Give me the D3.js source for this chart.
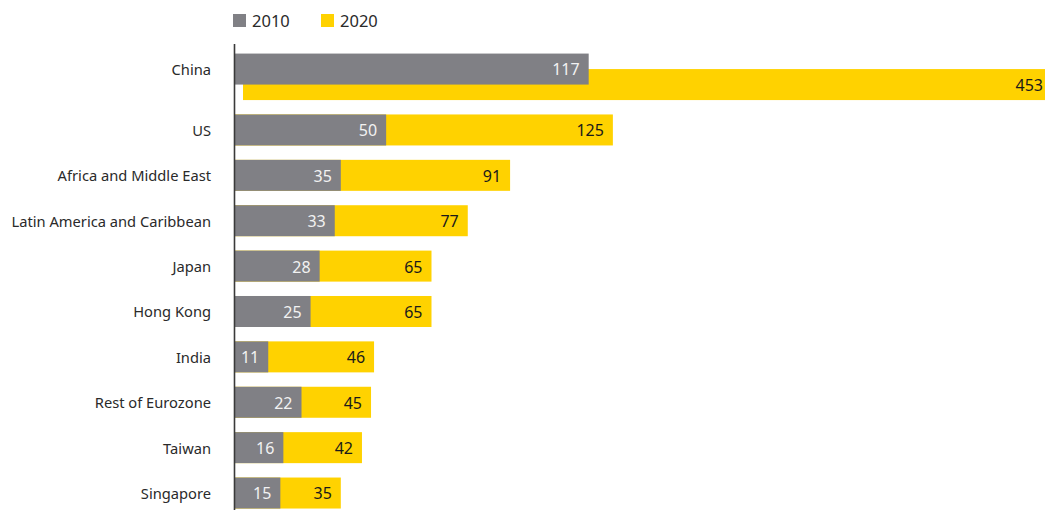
<!DOCTYPE html>
<html>
<head>
<meta charset="utf-8">
<script src="https://cdn.jsdelivr.net/npm/d3@7"></script>
<style>
  html, body { margin: 0; padding: 0; background: #fff; }
  svg { display: block; font-family: "Noto Sans", "DejaVu Sans", sans-serif; }
</style>
</head>
<body>
<svg id="chart" width="1045" height="510"></svg>
<script>
// Regions, ordered as drawn top to bottom
const categories = ["China", "US", "Africa and Middle East", "Latin America and Caribbean",
  "Japan", "Hong Kong", "India", "Rest of Eurozone", "Taiwan", "Singapore"];
const values2010 = [117, 50, 35, 33, 28, 25, 11, 22, 16, 15];
const values2020 = [453, 125, 91, 77, 65, 65, 46, 45, 42, 35];
const seriesNames = ["2010", "2020"];
const seriesColors = ["#808085", "#FFD200"];

const W = 1045, H = 510;
const svg = d3.select("#chart");

const x = d3.scaleLinear().domain([0, 100]).range([235, 537.3]);
const y = d3.scaleBand().domain(categories).range([61.9, 515.7])
  .paddingInner(0.317).paddingOuter(0.158);
const bh = y.bandwidth();

const rows = categories.map((c, i) => ({ c, v10: values2010[i], v20: values2020[i], lead: i === 0 }));

// 2020 bars (behind); the leading row is offset and runs off the edge
const g20 = svg.append("g");
g20.selectAll("rect").data(rows).join("rect")
  .attr("x", d => d.lead ? x(0) + 8 : x(0))
  .attr("y", d => y(d.c))
  .attr("width", d => Math.min(x(d.v20), W) - (d.lead ? x(0) + 8 : x(0)))
  .attr("height", bh)
  .attr("fill", seriesColors[1]);

// 2010 bars on top; the leading row sits half a bar higher
const g10 = svg.append("g");
g10.selectAll("rect").data(rows).join("rect")
  .attr("x", x(0))
  .attr("y", d => y(d.c) - (d.lead ? bh / 2 : 0))
  .attr("width", d => x(d.v10) - x(0))
  .attr("height", bh)
  .attr("fill", seriesColors[0]);

// value labels
svg.append("g").selectAll("text").data(rows).join("text")
  .attr("x", d => Math.min(x(d.v20), W) - (x(d.v20) > W ? 2 : 9))
  .attr("y", d => y(d.c) + bh / 2)
  .attr("dy", "0.4em")
  .attr("text-anchor", "end")
  .attr("font-size", 16)
  .attr("fill", "#1a1a1a")
  .text(d => d.v20);

svg.append("g").selectAll("text").data(rows).join("text")
  .attr("x", d => x(d.v10) - 9)
  .attr("y", d => y(d.c) + bh / 2 - (d.lead ? bh / 2 : 0))
  .attr("dy", "0.4em")
  .attr("text-anchor", "end")
  .attr("font-size", 16)
  .attr("fill", "#f2f2f2")
  .text(d => d.v10);

// category labels
svg.append("g").selectAll("text").data(rows).join("text")
  .attr("x", 211)
  .attr("y", d => y(d.c) + bh / 2 - (d.lead ? bh / 2 : 0))
  .attr("dy", "0.4em")
  .attr("text-anchor", "end")
  .attr("font-size", 14.7)
  .attr("fill", "#2a2a2a")
  .text(d => d.c);

// baseline axis
svg.append("line")
  .attr("x1", x(0) - 0.5).attr("x2", x(0) - 0.5)
  .attr("y1", 44).attr("y2", H)
  .attr("stroke", "#3a3a3a").attr("stroke-width", 1.6);

// legend
const legend = svg.append("g").selectAll("g").data(seriesNames).join("g")
  .attr("transform", (d, i) => `translate(${233 + i * 88},14)`);
legend.append("rect").attr("width", 13).attr("height", 13)
  .attr("fill", (d, i) => seriesColors[i]);
legend.append("text").attr("x", 19).attr("y", 6.5).attr("dy", "0.38em")
  .attr("font-size", 16.5).attr("fill", "#2a2a2a").text(d => d);
</script>
</body>
</html>
